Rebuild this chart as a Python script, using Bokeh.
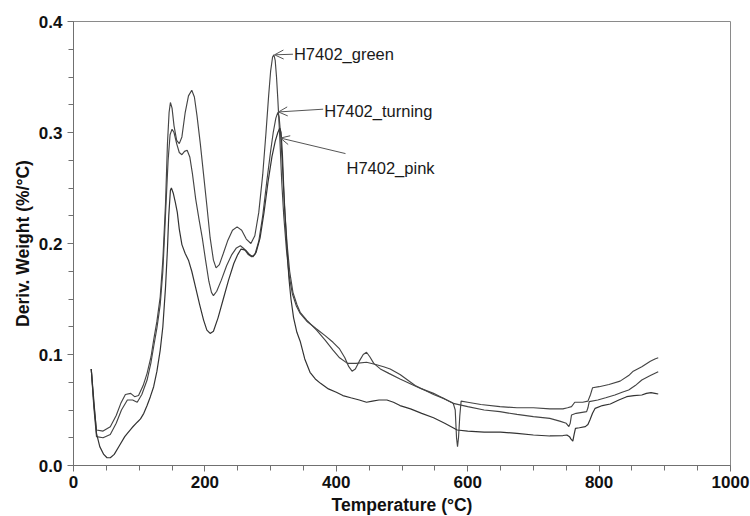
from bokeh.plotting import figure
from bokeh.models import FixedTicker, PrintfTickFormatter, Label, Arrow, OpenHead, Range1d
from bokeh.embed import file_html
from bokeh.resources import INLINE

# ---- data ----
green_t = [27, 31, 35, 45, 56, 65, 72, 79, 87, 93, 99, 106, 112, 118, 122, 127, 132, 136, 140, 143, 145.5, 147.5,
           150, 153, 157, 161, 165, 170, 175, 180, 184, 188, 193, 198, 203, 208, 213, 217, 222, 228, 235, 242, 249,
           256, 263, 270, 276, 282, 288, 293, 297, 300, 303, 305, 307, 309, 311, 314, 317, 320, 324, 328, 333, 339,
           345, 355, 370, 383, 395, 405, 413, 419, 424, 429, 435, 441, 446, 451, 457, 467, 480, 497, 515, 530, 548,
           565, 578, 581, 583, 584.5, 586, 588, 590, 600, 620, 649, 675, 700, 725, 745, 752, 758, 763, 775, 783, 787,
           790, 800, 815, 832, 845, 852, 865, 878, 885, 890]
green_v = [0.087, 0.055, 0.032, 0.031, 0.035, 0.045, 0.056, 0.064, 0.065, 0.062, 0.063, 0.072, 0.083, 0.098, 0.113,
           0.130, 0.152, 0.185, 0.235, 0.290, 0.318, 0.327, 0.322, 0.306, 0.293, 0.290, 0.296, 0.318, 0.333, 0.338,
           0.332, 0.315, 0.290, 0.262, 0.234, 0.205, 0.185, 0.178, 0.181, 0.191, 0.203, 0.212, 0.215, 0.212, 0.204,
           0.200, 0.207, 0.228, 0.262, 0.300, 0.333, 0.355, 0.368, 0.370, 0.365, 0.350, 0.330, 0.295, 0.255, 0.225,
           0.195, 0.172, 0.155, 0.144, 0.137, 0.130, 0.123, 0.117, 0.111, 0.105, 0.097, 0.089, 0.085, 0.087, 0.094,
           0.100, 0.102, 0.098, 0.092, 0.087, 0.083, 0.078, 0.073, 0.069, 0.065, 0.060, 0.056, 0.050, 0.025, 0.017,
           0.025, 0.045, 0.058, 0.057, 0.055, 0.053, 0.052, 0.052, 0.051, 0.051, 0.052, 0.053, 0.057, 0.057, 0.058,
           0.064, 0.070, 0.071, 0.073, 0.076, 0.081, 0.085, 0.089, 0.094, 0.096, 0.097]

turning_t = [27, 31, 35, 45, 56, 65, 73, 82, 90, 97, 104, 112, 118, 122, 127, 132, 136, 140, 144, 147, 150, 153,
             157, 161, 165, 169, 173, 177, 181, 186, 191, 196, 201, 206, 210, 213, 218, 225, 233, 241, 248, 254, 260,
             266, 271, 276, 282, 288, 294, 300, 304, 308, 311, 313, 315, 318, 321, 325, 329, 334, 340, 345, 355, 370,
             383, 395, 405, 417, 430, 446, 460, 472, 482, 497, 520, 548, 565, 578, 600, 625, 649, 675, 700, 725, 740,
             750, 754, 756, 758, 765, 781, 783, 785, 798, 810, 824, 835, 845, 855, 865, 878, 890]
turning_v = [0.087, 0.052, 0.026, 0.025, 0.028, 0.038, 0.050, 0.059, 0.059, 0.057, 0.064, 0.077, 0.093, 0.107,
             0.124, 0.145, 0.175, 0.225, 0.275, 0.298, 0.303, 0.300, 0.290, 0.282, 0.280, 0.283, 0.284, 0.278, 0.263,
             0.240, 0.222, 0.205, 0.185, 0.166, 0.156, 0.153, 0.157, 0.167, 0.180, 0.190, 0.196, 0.198, 0.195, 0.190,
             0.188, 0.190, 0.202, 0.225, 0.255, 0.283, 0.300, 0.313, 0.318, 0.314, 0.300, 0.270, 0.235, 0.200, 0.175,
             0.156, 0.145, 0.138, 0.131, 0.122, 0.113, 0.104, 0.097, 0.092, 0.092, 0.093, 0.091, 0.089, 0.087, 0.082,
             0.072, 0.064, 0.060, 0.056, 0.053, 0.050, 0.0485, 0.046, 0.044, 0.0425, 0.040, 0.038, 0.035, 0.038,
             0.0455, 0.047, 0.0485, 0.052, 0.0575, 0.059, 0.061, 0.0635, 0.066, 0.068, 0.072, 0.077, 0.081, 0.0845]

pink_t = [27, 31, 35, 40, 46, 51, 56, 62, 70, 78, 82, 89, 97, 102, 107, 112, 117, 122, 127, 132, 136, 140, 143, 145,
          147.5, 149, 152, 155, 158, 161, 165, 170, 175, 180, 186, 192, 198, 203, 208, 213, 220, 228, 236, 244, 250,
          255, 262, 268, 273, 278, 284, 290, 296, 302, 307, 311, 314, 316, 318, 320, 322, 325, 328, 331, 335, 340,
          345, 352, 360, 368, 376, 388, 400, 410, 422, 435, 446, 455, 465, 477, 487, 497, 513, 530, 548, 565, 584,
          600, 625, 650, 675, 700, 725, 745, 751, 755, 757, 760, 762, 764, 770, 779, 783, 786, 790, 794, 805, 817,
          830, 842, 853, 865, 872, 879, 885, 890]
pink_v = [0.087, 0.058, 0.029, 0.017, 0.010, 0.007, 0.007, 0.010, 0.018, 0.026, 0.029, 0.034, 0.039, 0.042, 0.047,
          0.054, 0.062, 0.071, 0.085, 0.104, 0.125, 0.160, 0.195, 0.225, 0.248, 0.250, 0.245, 0.237, 0.228, 0.213,
          0.199, 0.191, 0.185, 0.175, 0.160, 0.145, 0.131, 0.122, 0.119, 0.121, 0.133, 0.150, 0.167, 0.182, 0.190,
          0.195, 0.194, 0.190, 0.188, 0.192, 0.205, 0.228, 0.255, 0.278, 0.292, 0.300, 0.304, 0.300, 0.280, 0.250,
          0.225, 0.195, 0.168, 0.150, 0.133, 0.120, 0.112, 0.096, 0.084, 0.078, 0.074, 0.069, 0.066, 0.063, 0.061,
          0.059, 0.057, 0.058, 0.059, 0.059, 0.057, 0.054, 0.051, 0.047, 0.043, 0.038, 0.032, 0.031, 0.030, 0.030,
          0.029, 0.0275, 0.0266, 0.027, 0.0275, 0.026, 0.024, 0.022, 0.028, 0.0335, 0.034, 0.035, 0.037, 0.041,
          0.047, 0.0515, 0.054, 0.0554, 0.059, 0.062, 0.063, 0.0635, 0.065, 0.0656, 0.065, 0.0644]

series_names = ["H7402_green", "H7402_turning", "H7402_pink"]
x_ticks = [0, 200, 400, 600, 800, 1000]
y_ticks = [0.0, 0.1, 0.2, 0.3, 0.4]

FONT = "Liberation Sans"
LINE = "#454545"
AX = "#707070"

p = figure(frame_width=657, frame_height=444, output_backend="svg", toolbar_location=None,
           x_range=Range1d(0, 1000), y_range=Range1d(0, 0.4),
           min_border_left=73, min_border_right=20, min_border_top=21, min_border_bottom=50)
p.grid.visible = False
p.outline_line_color = "#8a8a8a"
p.outline_line_width = 1
p.background_fill_color = "white"
p.border_fill_color = "white"

p.line(green_t, green_v, line_color=LINE, line_width=1.15)
p.line(turning_t, turning_v, line_color=LINE, line_width=1.15)
p.line(pink_t, pink_v, line_color="#333333", line_width=1.2)

# axes
p.xaxis.ticker = FixedTicker(ticks=x_ticks, minor_ticks=list(range(0, 1001, 50)))
p.yaxis.ticker = FixedTicker(ticks=y_ticks, minor_ticks=[i * 0.025 for i in range(17)])
p.yaxis.formatter = PrintfTickFormatter(format="%.1f")
p.xaxis.axis_label = "Temperature (°C)"
p.yaxis.axis_label = "Deriv. Weight (%/°C)"
for ax in (p.xaxis, p.yaxis):
    ax.axis_line_color = AX
    ax.major_tick_line_color = AX
    ax.minor_tick_line_color = AX
    ax.major_tick_in = 0
    ax.major_tick_out = 6
    ax.minor_tick_in = 0
    ax.minor_tick_out = 5
    ax.major_label_text_font = FONT
    ax.major_label_text_font_style = "bold"
    ax.major_label_text_font_size = "17px"
    ax.major_label_text_color = "#111111"
    ax.axis_label_text_font = FONT
    ax.axis_label_text_font_style = "bold"
    ax.axis_label_text_font_size = "17.5px"
    ax.axis_label_text_color = "#111111"
p.xaxis.major_label_standoff = 4
p.yaxis.major_label_standoff = 5
p.xaxis.axis_label_standoff = 4
p.yaxis.axis_label_standoff = 3

# annotations (label text position, arrow tip, arrow start)
ann = [
    (series_names[0], 334, 0.3705, 306, 0.370, 334, 0.3705),
    (series_names[1], 380, 0.3195, 312, 0.3185, 380, 0.321),
    (series_names[2], 414, 0.268, 315, 0.295, 414, 0.281),
]
for name, lx, ly, tx, ty, sx, sy in ann:
    p.add_layout(Arrow(end=OpenHead(size=9, line_color="#555555", line_width=1),
                       x_start=sx, y_start=sy, x_end=tx, y_end=ty,
                       line_color="#555555", line_width=1))
    p.add_layout(Label(x=lx, y=ly, text=name, text_font=FONT, text_font_size="16.5px",
                       text_color="#1a1a1a", text_baseline="middle", text_align="left", x_offset=1))

open("out.html", "w").write(file_html(p, INLINE))
